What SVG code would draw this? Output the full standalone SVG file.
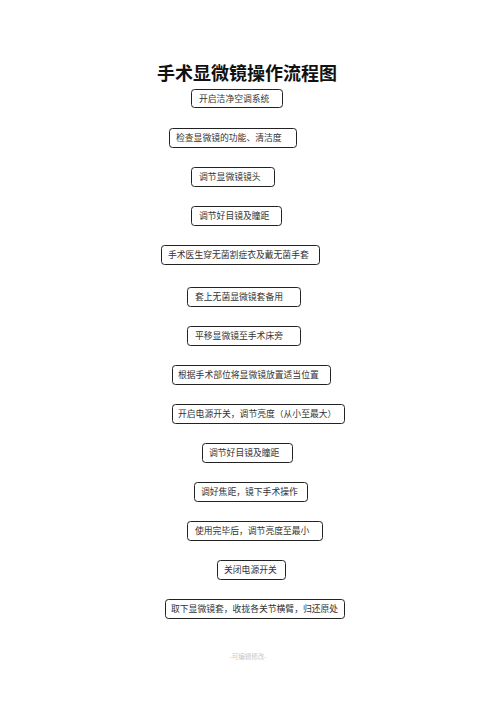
<svg xmlns="http://www.w3.org/2000/svg" width="496" height="702" viewBox="0 0 496 702">
<style>
.box{fill:#fff;stroke:#222;stroke-width:1;}
.t{font-family:"Noto Sans CJK SC","Liberation Serif",serif;font-size:8.8px;fill:#333;}
.title{font-family:"Noto Sans CJK SC","Liberation Sans",sans-serif;font-size:18px;font-weight:bold;fill:#111;}
.foot{font-family:"Noto Sans CJK SC","Liberation Sans",sans-serif;font-size:6.5px;fill:#c8c8c8;}
</style>
<rect width="496" height="702" fill="#fff"/>
<text class="title" x="247" y="80" text-anchor="middle">手术显微镜操作流程图</text>
<g id="connectors"></g>
<g id="n1"><rect class="box" x="191.5" y="89.5" width="91" height="18" rx="3"/><text class="t" x="199" y="101.8">开启洁净空调系统</text></g>
<g id="n2"><rect class="box" x="169.5" y="128.5" width="127" height="19" rx="3"/><text class="t" x="176" y="141">检查显微镜的功能、清洁度</text></g>
<g id="n3"><rect class="box" x="191.5" y="167.5" width="83" height="19" rx="3"/><text class="t" x="199" y="180">调节显微镜镜头</text></g>
<g id="n4"><rect class="box" x="191.5" y="206.5" width="90" height="19" rx="3"/><text class="t" x="199" y="219">调节好目镜及瞳距</text></g>
<g id="n5"><rect class="box" x="161.5" y="245.5" width="158" height="19" rx="3"/><text class="t" x="168" y="258">手术医生穿无菌割症衣及戴无菌手套</text></g>
<g id="n6"><rect class="box" x="187.5" y="287.5" width="113" height="19" rx="3"/><text class="t" x="195" y="300">套上无菌显微镜套备用</text></g>
<g id="n7"><rect class="box" x="187.5" y="326.5" width="113" height="19" rx="3"/><text class="t" x="195" y="339">平移显微镜至手术床旁</text></g>
<g id="n8"><rect class="box" x="172.5" y="365.5" width="158" height="19" rx="3"/><text class="t" x="178" y="378">根据手术部位将显微镜放置适当位置</text></g>
<g id="n9"><rect class="box" x="172.5" y="404.5" width="172" height="19" rx="3"/><text class="t" x="178" y="417">开启电源开关，调节亮度（从小至最大）</text></g>
<g id="n10"><rect class="box" x="202.5" y="443.5" width="90" height="19" rx="3"/><text class="t" x="209" y="456">调节好目镜及瞳距</text></g>
<g id="n11"><rect class="box" x="194.5" y="482.5" width="113" height="19" rx="3"/><text class="t" x="201" y="495">调好焦距，镜下手术操作</text></g>
<g id="n12"><rect class="box" x="187.5" y="521.5" width="135" height="19" rx="3"/><text class="t" x="195" y="534">使用完毕后，调节亮度至最小</text></g>
<g id="n13"><rect class="box" x="217.5" y="560.5" width="68" height="19" rx="3"/><text class="t" x="224" y="573">关闭电源开关</text></g>
<g id="n14"><rect class="box" x="165.5" y="599.5" width="179" height="19" rx="3"/><text class="t" x="171" y="612">取下显微镜套，收拢各关节横臂，归还原处</text></g>
<text class="foot" x="248" y="659" text-anchor="middle">-可编辑修改-</text>
</svg>
